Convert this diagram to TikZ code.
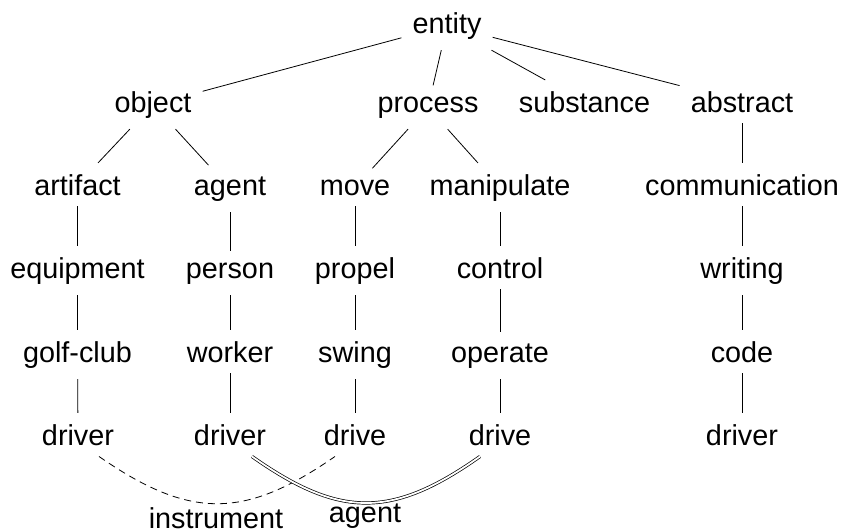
\documentclass[tikz,border=0pt]{standalone}
\usepackage{fontspec}
\setmainfont{Liberation Sans}
\begin{document}
\begin{tikzpicture}[x=1pt,y=-1pt,
  every node/.style={font=\fontsize{28.8}{34}\selectfont, inner sep=11pt, anchor=base},
  lbl/.style={inner sep=0pt},
  edge/.style={line width=0.8pt},
  instrlink/.style={line width=0.8pt, dash pattern=on 7pt off 5pt},
  agentlink/.style={line width=0.7pt, double, double distance=1.8pt}]
\useasboundingbox (0,0) rectangle (841,530);
% row 1
\node (entity) at (447,33) {entity};
% row 2
\node (object) at (153,112) {object};
\node (process) at (428,112) {process};
\node (substance) at (584.5,112) {substance};
\node (abstract) at (742,112) {abstract};
% row 3
\node (artifact) at (77.5,195) {artifact};
\node (agent) at (230,195) {agent};
\node (move) at (355,195) {move};
\node (manipulate) at (500,195) {manipulate};
\node (communication) at (742,195) {communication};
% row 4
\node (equipment) at (77.5,278) {equipment};
\node (person) at (230,278) {person};
\node (propel) at (355,278) {propel};
\node (control) at (500,278) {control};
\node (writing) at (742,278) {writing};
% row 5
\node (golfclub) at (77.5,362) {golf-club};
\node (worker) at (230,362) {worker};
\node (swing) at (355,362) {swing};
\node (operate) at (500,362) {operate};
\node (code) at (742,362) {code};
% row 6
\node (driverA) at (78,445) {driver};
\node (driverB) at (230,445) {driver};
\node (driveA) at (355,445) {drive};
\node (driveB) at (500,445) {drive};
\node (driverC) at (742,445) {driver};
% labels
\node[lbl] (instrument) at (216,528.5) {instrument};
\node[lbl] (agentlbl) at (365,522) {agent};
% tree edges
\draw[edge] (entity) -- (object);
\draw[edge] (entity) -- (process);
\draw[edge] (entity) -- (substance);
\draw[edge] (entity) -- (abstract);
\draw[edge] (object) -- (artifact);
\draw[edge] (object) -- (agent);
\draw[edge] (process) -- (move);
\draw[edge] (process) -- (manipulate);
\draw[edge] (abstract) -- (communication);
\draw[edge] (artifact) -- (equipment);
\draw[edge] (agent) -- (person);
\draw[edge] (move) -- (propel);
\draw[edge] (manipulate) -- (control);
\draw[edge] (communication) -- (writing);
\draw[edge] (equipment) -- (golfclub);
\draw[edge] (person) -- (worker);
\draw[edge] (propel) -- (swing);
\draw[edge] (control) -- (operate);
\draw[edge] (writing) -- (code);
\draw[edge] (golfclub) -- (driverA);
\draw[edge] (worker) -- (driverB);
\draw[edge] (swing) -- (driveA);
\draw[edge] (operate) -- (driveB);
\draw[edge] (code) -- (driverC);
% relation arcs
\draw[instrlink] ([xshift=21pt]driverA.south) .. controls +(91,63) and +(-91,63) .. ([xshift=-20pt]driveA.south);
\draw[agentlink] ([xshift=22pt]driverB.south) .. controls +(88,62) and +(-88,62) .. ([xshift=-20pt]driveB.south);
\end{tikzpicture}
\end{document}
